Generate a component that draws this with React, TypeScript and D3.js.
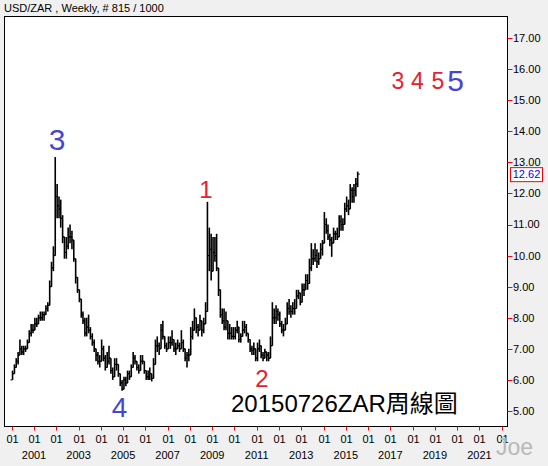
import React from 'react';
import * as d3 from 'd3';

const START_YEAR = 2000;

const highs = [
  6.3, 6.5, 6.7, 6.9, 7.3, 7.1, 7.1, 7.1, 7.3, 7.6, 7.8, 7.8,
  8.0, 8.0, 8.1, 8.2, 8.2, 8.2, 8.4, 8.5, 9.2, 9.8, 10.3, 13.17,
  12.3, 11.9, 11.8, 11.3, 10.6, 10.6, 10.9, 11.0, 10.8, 10.5, 9.9, 9.3,
  8.9, 8.6, 8.2, 8.0, 8.0, 8.1, 7.7, 7.5, 7.3, 7.0, 6.9, 6.8,
  7.3, 7.1, 6.8, 6.9, 7.1, 6.7, 6.4, 6.7, 6.7, 6.5, 6.2, 6.0,
  6.1, 6.1, 6.3, 6.3, 6.5, 6.9, 6.8, 6.6, 6.5, 6.8, 6.8, 6.6,
  6.3, 6.3, 6.4, 6.2, 6.7, 7.3, 7.4, 7.2, 7.8, 7.9, 7.4, 7.2,
  7.4, 7.4, 7.6, 7.3, 7.2, 7.3, 7.2, 7.6, 7.3, 7.0, 6.9, 7.0,
  7.7, 7.9, 8.3, 8.0, 7.8, 8.1, 7.9, 8.0, 8.5, 11.73, 10.9, 10.7,
  10.6, 10.6, 10.7, 9.6, 8.9, 8.3, 8.3, 8.2, 7.8, 7.8, 7.7, 7.7,
  7.7, 7.9, 7.6, 7.5, 7.9, 7.9, 7.8, 7.5, 7.3, 7.1, 7.2, 7.0,
  7.2, 7.3, 7.1, 6.9, 7.0, 6.9, 6.9, 7.4, 8.5, 8.3, 8.4, 8.3,
  8.2, 7.9, 7.8, 8.0, 8.5, 8.6, 8.4, 8.5, 8.6, 8.9, 8.9, 8.8,
  9.1, 9.1, 9.4, 9.4, 9.9, 10.4, 10.2, 10.4, 10.2, 10.1, 10.4, 10.5,
  11.4, 11.2, 11.0, 10.7, 10.6, 10.9, 10.8, 10.9, 11.3, 11.3, 11.2, 11.7,
  11.9, 11.8, 12.3, 12.2, 12.3, 12.5, 12.7,
];

const lows = [
  6.0, 6.2, 6.4, 6.5, 6.8, 6.8, 6.8, 6.9, 7.0, 7.2, 7.4, 7.5,
  7.6, 7.7, 7.8, 7.9, 7.9, 7.9, 8.1, 8.2, 8.5, 9.0, 9.5, 10.2,
  11.2, 11.2, 10.9, 10.4, 9.9, 9.9, 10.2, 10.4, 10.2, 9.8, 9.1, 8.8,
  8.5, 8.0, 7.8, 7.4, 7.4, 7.5, 7.3, 7.1, 6.9, 6.6, 6.5, 6.4,
  6.6, 6.6, 6.3, 6.4, 6.5, 6.2, 6.0, 6.3, 6.3, 6.1, 5.8, 5.65,
  5.8, 5.8, 5.9, 6.0, 6.2, 6.5, 6.5, 6.3, 6.2, 6.4, 6.5, 6.2,
  6.0, 6.0, 6.0, 5.95, 6.1, 6.5, 6.9, 6.8, 7.2, 7.3, 7.0, 6.9,
  7.0, 7.0, 7.1, 6.9, 6.8, 7.0, 6.9, 7.0, 6.9, 6.6, 6.4, 6.6,
  6.8, 7.3, 7.6, 7.5, 7.4, 7.6, 7.4, 7.5, 7.8, 8.3, 9.5, 9.2,
  9.5, 9.8, 9.5, 8.7, 8.0, 7.8, 7.6, 7.6, 7.3, 7.3, 7.3, 7.3,
  7.3, 7.5, 7.2, 7.2, 7.4, 7.5, 7.4, 7.2, 6.9, 6.8, 6.8, 6.6,
  6.6, 6.9, 6.7, 6.6, 6.7, 6.6, 6.6, 6.9, 7.2, 7.8, 7.8, 7.9,
  7.7, 7.5, 7.4, 7.6, 7.8, 8.1, 8.0, 8.1, 8.1, 8.5, 8.6, 8.4,
  8.6, 8.7, 8.9, 8.9, 9.1, 9.5, 9.7, 9.8, 9.6, 9.7, 9.9, 10.0,
  10.4, 10.7, 10.5, 10.3, 9.96, 10.4, 10.5, 10.5, 10.6, 10.8, 10.8, 11.1,
  11.4, 11.3, 11.8, 11.7, 11.7, 11.9, 12.2,
];

const closes = [
  6.2, 6.4, 6.6, 6.8, 7.0, 6.9, 7.0, 7.0, 7.2, 7.5, 7.6, 7.6,
  7.8, 7.8, 8.0, 8.0, 8.1, 8.1, 8.3, 8.4, 9.0, 9.6, 10.0, 11.9,
  11.6, 11.5, 11.2, 10.6, 10.1, 10.3, 10.6, 10.6, 10.5, 9.9, 9.3, 8.9,
  8.6, 8.1, 7.9, 7.5, 7.7, 7.6, 7.4, 7.2, 7.0, 6.8, 6.6, 6.6,
  7.0, 6.7, 6.4, 6.6, 6.7, 6.3, 6.1, 6.5, 6.5, 6.2, 5.9, 5.7,
  6.0, 5.9, 6.2, 6.1, 6.4, 6.7, 6.6, 6.4, 6.3, 6.6, 6.6, 6.3,
  6.1, 6.1, 6.2, 6.05, 6.5, 7.1, 7.1, 7.0, 7.6, 7.4, 7.1, 7.0,
  7.2, 7.2, 7.3, 7.0, 7.0, 7.1, 7.0, 7.2, 7.0, 6.7, 6.8, 6.8,
  7.4, 7.6, 8.0, 7.7, 7.6, 7.9, 7.6, 7.8, 8.2, 10.0, 10.2, 9.5,
  10.1, 10.0, 9.6, 8.9, 8.1, 7.9, 7.7, 7.9, 7.5, 7.5, 7.4, 7.4,
  7.6, 7.7, 7.3, 7.4, 7.6, 7.7, 7.5, 7.3, 7.0, 6.95, 7.0, 6.7,
  7.0, 7.1, 6.8, 6.7, 6.9, 6.8, 6.7, 7.1, 8.0, 8.0, 8.2, 8.1,
  7.8, 7.6, 7.6, 7.8, 8.3, 8.2, 8.2, 8.3, 8.3, 8.7, 8.8, 8.5,
  8.9, 8.9, 9.2, 9.1, 9.6, 9.9, 9.9, 10.0, 9.8, 9.9, 10.2, 10.4,
  11.0, 10.8, 10.6, 10.5, 10.4, 10.7, 10.7, 10.6, 11.1, 11.0, 11.0, 11.5,
  11.6, 11.5, 12.1, 11.9, 12.1, 12.3, 12.62,
];

const yTicks = [5, 6, 7, 8, 9, 10, 11, 12, 13, 14, 15, 16, 17];
const xTickYears = [2000, 2001, 2002, 2003, 2004, 2005, 2006, 2007, 2008, 2009, 2010, 2011,
  2012, 2013, 2014, 2015, 2016, 2017, 2018, 2019, 2020, 2021, 2022];
const yearLabels = [2001, 2003, 2005, 2007, 2009, 2011, 2013, 2015, 2017, 2019, 2021];
const lastValue = 12.62;
const title = 'USD/ZAR , Weekly, # 815 / 1000';
const caption = '20150726ZAR周線圖';

const W = 548;
const H = 466;
const PL = 4.5, PT = 16.5, PR = 507.5, PB = 426.5;
const FONT = '"Liberation Sans", Arial, sans-serif';
const RED = '#e8202c';
const BLUE = '#4646d2';

export default function App() {
  const x = d3.scaleTime()
    .domain([new Date(2000, 0, 1), new Date(2022, 0, 1)])
    .range([11.7, 501.7]);
  const y = d3.scaleLinear().domain([5, 17]).range([411, 38]);

  const bars = highs.map((h, i) => {
    const yr = START_YEAR + Math.floor(i / 12);
    const mo = i % 12;
    const date = new Date(yr, mo, 15);
    const open = i > 0 ? closes[i - 1] : lows[0];
    return { date, high: Math.max(h, open), low: Math.min(lows[i], open), open, close: closes[i] };
  });

  return (
    <svg width={W} height={H} style={{ position: 'absolute', left: 0, top: 0, display: 'block' }}
      fontFamily={FONT}>
      <rect x={0} y={0} width={W} height={H} fill="#f0f0f0" />
      <text x={4} y={12} fontSize={11} fill="#000">{title}</text>
      <rect x={PL} y={PT} width={PR - PL} height={PB - PT} fill="#fff" stroke="#000" strokeWidth={1} />

      {/* bars */}
      <g stroke="#000" strokeWidth={1.6}>
        {bars.map((b, i) => {
          const cx = x(b.date);
          return (
            <g key={i}>
              <line x1={cx} x2={cx} y1={y(b.high)} y2={y(b.low)} />
              <line x1={cx - 2} x2={cx} y1={y(b.open)} y2={y(b.open)} strokeWidth={1} />
              <line x1={cx} x2={cx + 2} y1={y(b.close)} y2={y(b.close)} strokeWidth={1} />
            </g>
          );
        })}
      </g>

      {/* y axis */}
      {yTicks.map((t) => (
        <g key={t}>
          <line x1={PR} x2={PR + 5} y1={Math.round(y(t)) + 0.5} y2={Math.round(y(t)) + 0.5} stroke="#ff0000" />
          <text x={PR + 5.5} y={y(t)} dy="0.36em" fontSize={11} fill="#000">{t.toFixed(2)}</text>
        </g>
      ))}
      <rect x={510.5} y={y(lastValue) - 6.5} width={32} height={14} fill="#fff" stroke="#ff0000" strokeWidth={1} />
      <text x={526.5} y={y(lastValue)} dy="0.38em" fontSize={11} fill="#0000ff" textAnchor="middle">{lastValue.toFixed(2)}</text>

      {/* x axis */}
      {xTickYears.map((yr) => {
        const tx = Math.round(x(new Date(yr, 0, 1))) + 0.5;
        return (
          <g key={yr}>
            <line x1={tx} x2={tx} y1={PB} y2={PB + 4} stroke="#ff0000" />
            <text x={tx} y={439} dy="0.36em" fontSize={11} textAnchor="middle" fill="#000">01</text>
          </g>
        );
      })}
      {yearLabels.map((yr) => (
        <text key={yr} x={x(new Date(yr, 0, 1))} y={455.5} dy="0.36em" fontSize={11} textAnchor="middle" fill="#000">{yr}</text>
      ))}

      {/* annotations */}
      <text x={57} y={149.5} fontSize={30} fill={BLUE} textAnchor="middle">3</text>
      <text x={206} y={197.5} fontSize={24} fill={RED} textAnchor="middle">1</text>
      <text x={262} y={387} fontSize={24} fill={RED} textAnchor="middle">2</text>
      <text x={119.5} y={416.7} fontSize={28} fill={BLUE} textAnchor="middle">4</text>
      <text x={398} y={89.3} fontSize={23} fill={RED} textAnchor="middle">3</text>
      <text x={417.5} y={89.3} fontSize={23} fill={RED} textAnchor="middle">4</text>
      <text x={438} y={89.3} fontSize={23} fill={RED} textAnchor="middle">5</text>
      <text x={455.5} y={90.7} fontSize={30} fill={BLUE} textAnchor="middle">5</text>
      <text x={231} y={411.5} fontSize={24} fill="#000"
        fontFamily={'"Liberation Sans", Arial, "Noto Sans CJK TC", sans-serif'}>{caption}</text>
      <text x={496} y={455} fontSize={23} fill="#b8b8b8">Joe</text>
    </svg>
  );
}
